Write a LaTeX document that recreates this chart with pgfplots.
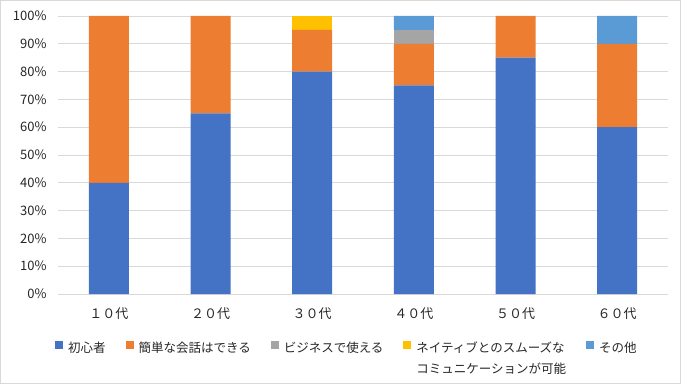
\documentclass[border=0pt]{standalone}
\usepackage{pgfplots}
\pgfplotsset{compat=1.18}
\usepackage{fontspec}
\setmainfont{Noto Sans CJK JP}
\definecolor{c1}{HTML}{4472C4}
\definecolor{c2}{HTML}{ED7D31}
\definecolor{c3}{HTML}{A5A5A5}
\definecolor{c4}{HTML}{FFC000}
\definecolor{c5}{HTML}{5B9BD5}
\definecolor{gridc}{HTML}{D9D9D9}
\definecolor{framec}{HTML}{D9D9D9}
\begin{document}
\begin{tikzpicture}
\useasboundingbox (-58bp,-90bp) rectangle (623bp,294bp);
\draw[framec, line width=1bp] (-57.5bp,-89.5bp) rectangle (622.5bp,293.5bp);
\begin{axis}[
  scale only axis,
  width=610bp, height=278bp,
  ybar stacked,
  bar width=40bp,
  xmin=-0.5, xmax=5.5,
  ymin=0, ymax=100,
  enlargelimits=false,
  xtick={0,1,2,3,4,5},
  xticklabels={１０代,２０代,３０代,４０代,５０代,６０代},
  ytick={0,10,...,100},
  yticklabels={0\%,10\%,20\%,30\%,40\%,50\%,60\%,70\%,80\%,90\%,100\%},
  ymajorgrids,
  major grid style={gridc, line width=0.75bp},
  axis line style={draw=none},
  major tick length=0pt,
  tick label style={font=\fontsize{13bp}{15bp}\selectfont, text=black!85},
  yticklabel style={xshift=-8bp},
  xticklabel style={yshift=-10bp},
  legend columns=5,
  legend style={draw=none, fill=none, at={(-0.005,-0.165)}, anchor=north west,
    font=\fontsize{12.5bp}{14bp}\selectfont, text=black!85,
    /tikz/every odd column/.append style={column sep=3bp},
    /tikz/every even column/.append style={column sep=18bp},
    inner sep=0pt},
  legend image code/.code={\fill[#1] (0bp,-1bp) rectangle (8bp,7bp);},
]
\addplot[fill=c1, draw=none] coordinates {(0,40) (1,65) (2,80) (3,75) (4,85) (5,60)};
\addplot[fill=c2, draw=none] coordinates {(0,60) (1,35) (2,15) (3,15) (4,15) (5,30)};
\addplot[fill=c3, draw=none] coordinates {(0,0) (1,0) (2,0) (3,5) (4,0) (5,0)};
\addplot[fill=c4, draw=none] coordinates {(0,0) (1,0) (2,5) (3,0) (4,0) (5,0)};
\addplot[fill=c5, draw=none] coordinates {(0,0) (1,0) (2,0) (3,5) (4,0) (5,10)};
\addlegendentry{初心者}
\addlegendentry{簡単な会話はできる}
\addlegendentry{ビジネスで使える}
\addlegendentry{\begin{tabular}[t]{@{}l@{}}ネイティブとのスムーズな\\[6bp]コミュニケーションが可能\end{tabular}}
\addlegendentry{その他}
\end{axis}
\end{tikzpicture}
\end{document}
